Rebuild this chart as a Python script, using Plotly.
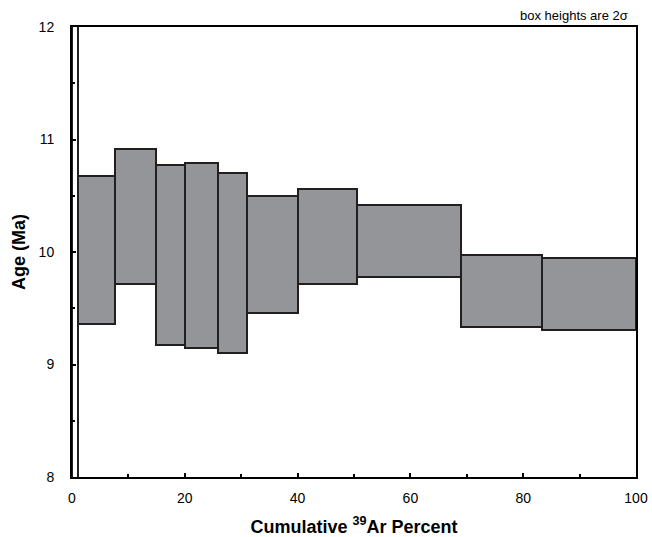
import plotly.graph_objects as go

# Cumulative 39Ar percent at step boundaries
cum_pct = [0.0, 1.1, 7.56, 14.94, 20.12, 25.9, 31.04, 40.0, 50.5, 69.0, 83.3, 100.0]
# Step ages (Ma) and 1-sigma errors (box height = 2 sigma)
age_ma = [10.0, 10.02, 10.32, 9.97, 9.97, 9.90, 9.98, 10.14, 10.10, 9.65, 9.63]
sigma_ma = [3.0, 0.66, 0.60, 0.80, 0.82, 0.80, 0.52, 0.42, 0.32, 0.32, 0.32]

x_ticks = [0, 20, 40, 60, 80, 100]
y_ticks = [8, 9, 10, 11, 12]

mids = [(a + b) / 2 for a, b in zip(cum_pct[:-1], cum_pct[1:])]
widths = [b - a for a, b in zip(cum_pct[:-1], cum_pct[1:])]
bases = [a - s for a, s in zip(age_ma, sigma_ma)]
heights = [2 * s for s in sigma_ma]
fills = ["white"] + ["#939598"] * (len(mids) - 1)

fig = go.Figure()
fig.add_trace(go.Bar(
    x=mids, y=heights, base=bases, width=widths,
    marker=dict(color=fills, line=dict(color="#231f20", width=2)),
    hoverinfo="skip", showlegend=False,
))

font_family = "Liberation Sans, Arial, sans-serif"
fig.update_layout(
    width=652, height=537,
    margin=dict(l=72, r=16, t=27, b=60, autoexpand=False),
    paper_bgcolor="white", plot_bgcolor="white",
    font=dict(family=font_family, size=14, color="#000"),
    bargap=0,
    xaxis=dict(
        range=[0, 100], tickvals=x_ticks, ticks="inside", ticklen=4, tickwidth=2,
        tickcolor="#000", automargin=False,
        minor=dict(dtick=10, ticks="inside", ticklen=3, tickwidth=2, tickcolor="#000"),
        showline=True, linecolor="#000", linewidth=2, mirror=True,
        showgrid=False, zeroline=False,
        ticklabelstandoff=7, ticklabeloverflow="allow",
        title=dict(text="<b>Cumulative <sup>39</sup>Ar Percent</b>",
                   font=dict(size=18), standoff=17),
    ),
    yaxis=dict(
        range=[8, 12], tickvals=y_ticks, ticks="inside", ticklen=4, tickwidth=2,
        tickcolor="#000", automargin=False,
        minor=dict(dtick=0.5, ticks="inside", ticklen=3, tickwidth=2, tickcolor="#000"),
        showline=True, linecolor="#000", linewidth=2, mirror=True,
        showgrid=False, zeroline=False,
        ticklabelstandoff=13, ticklabeloverflow="allow",
        title=dict(text="<b>Age (Ma)</b>", font=dict(size=18), standoff=8),
    ),
    annotations=[dict(
        text="box heights are 2σ", xref="paper", yref="paper", x=1, y=1,
        xanchor="right", yanchor="middle", yshift=12, xshift=-6, showarrow=False,
        font=dict(size=13),
    )],
)

fig.write_html(
    "out.html",
    config={"displayModeBar": False},
    post_script="document.body.style.margin='0';document.documentElement.style.overflow='hidden';",
)
